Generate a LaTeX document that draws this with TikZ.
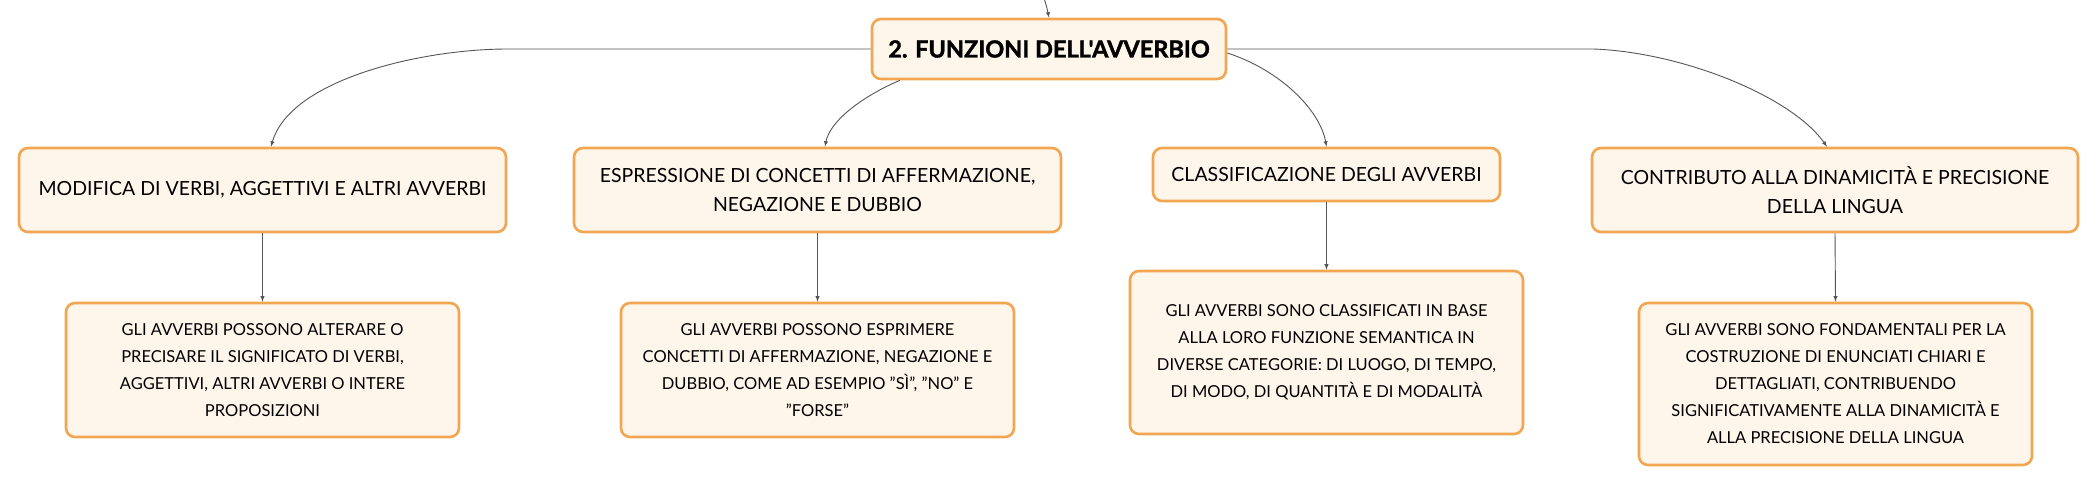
\documentclass[tikz,border=0pt]{standalone}
\usepackage{fontspec}
\setmainfont{Lato}
\newfontfamily\headfont{Lato}[BoldFeatures={FakeBold=1.6}]
\usetikzlibrary{arrows}
\definecolor{boxline}{RGB}{242,166,82}
\definecolor{boxfill}{RGB}{254,245,235}
\definecolor{linkgray}{RGB}{85,85,85}
\newcommand\dq{\symbol{34}}
\begin{document}
\begin{tikzpicture}[x=1pt,y=-1pt,
    topic/.style={draw=boxline,fill=boxfill,line width=2.6pt,rounded corners=9pt,align=center,inner sep=0pt,font=\fontsize{19.5}{29}\selectfont},
    note/.style={topic,minimum width=393pt,font=\fontsize{16.5}{27}\selectfont},
    link/.style={linkgray,line width=0.9pt,-latex}]
    \useasboundingbox (0,0) rectangle (2098,486);
    \node [topic,minimum width=354pt,minimum height=60pt,font=\headfont\bfseries\fontsize{23.5}{28}\selectfont] (main) at (1049,49) {2. FUNZIONI DELL\symbol{39}AVVERBIO};
    \node [topic,minimum width=487pt,minimum height=84pt] (mod) at (262.5,190) {MODIFICA DI VERBI, AGGETTIVI E ALTRI AVVERBI};
    \node [topic,minimum width=487pt,minimum height=84pt] (espr) at (817.5,190) {ESPRESSIONE DI CONCETTI DI AFFERMAZIONE,\\ NEGAZIONE E DUBBIO};
    \node [topic,minimum width=347pt,minimum height=53pt] (class) at (1326.5,174.5) {CLASSIFICAZIONE DEGLI AVVERBI};
    \node [topic,minimum width=486pt,minimum height=84pt] (contr) at (1835,190) {CONTRIBUTO ALLA DINAMICITÀ E PRECISIONE\\ DELLA LINGUA};
    \node [note,minimum height=134pt] (modtxt) at (262.5,370) {GLI AVVERBI POSSONO ALTERARE O\\ PRECISARE IL SIGNIFICATO DI VERBI,\\ AGGETTIVI, ALTRI AVVERBI O INTERE\\ PROPOSIZIONI};
    \node [note,minimum height=134pt] (esprtxt) at (817.5,370) {GLI AVVERBI POSSONO ESPRIMERE\\ CONCETTI DI AFFERMAZIONE, NEGAZIONE E\\ DUBBIO, COME AD ESEMPIO \dq SÌ\dq, \dq NO\dq{} E\\ \dq FORSE\dq};
    \node [note,minimum height=163pt] (classtxt) at (1326.5,352.5) {GLI AVVERBI SONO CLASSIFICATI IN BASE\\ ALLA LORO FUNZIONE SEMANTICA IN\\ DIVERSE CATEGORIE: DI LUOGO, DI TEMPO,\\ DI MODO, DI QUANTITÀ E DI MODALITÀ};
    \node [note,minimum height=162pt] (contrtxt) at (1835.5,384) {GLI AVVERBI SONO FONDAMENTALI PER LA\\ COSTRUZIONE DI ENUNCIATI CHIARI E\\ DETTAGLIATI, CONTRIBUENDO\\ SIGNIFICATIVAMENTE ALLA DINAMICITÀ E\\ ALLA PRECISIONE DELLA LINGUA};
    \coordinate (parent) at (1044,-2);
    \draw [link] (parent) .. controls (1047,8) .. (main.north);
    \draw [link] (main.west) -- (508,49) .. controls (420,49) and (290,80) .. ([xshift=8.5pt]mod.north);
    \draw [link] ([xshift=-149pt]main.south) .. controls (865,95) and (830,120) .. ([xshift=7.5pt]espr.north);
    \draw [link] ([yshift=-4pt]main.east) .. controls (1280,70) and (1320,110) .. (class.north);
    \draw [link] (main.east) -- (1593,49) .. controls (1680,52) and (1790,95) .. ([xshift=-8pt]contr.north);
    \draw [link] (mod.south) -- (modtxt.north);
    \draw [link] (espr.south) -- (esprtxt.north);
    \draw [link] (class.south) -- (classtxt.north);
    \draw [link] (contr.south) -- (contrtxt.north);
\end{tikzpicture}
\end{document}
